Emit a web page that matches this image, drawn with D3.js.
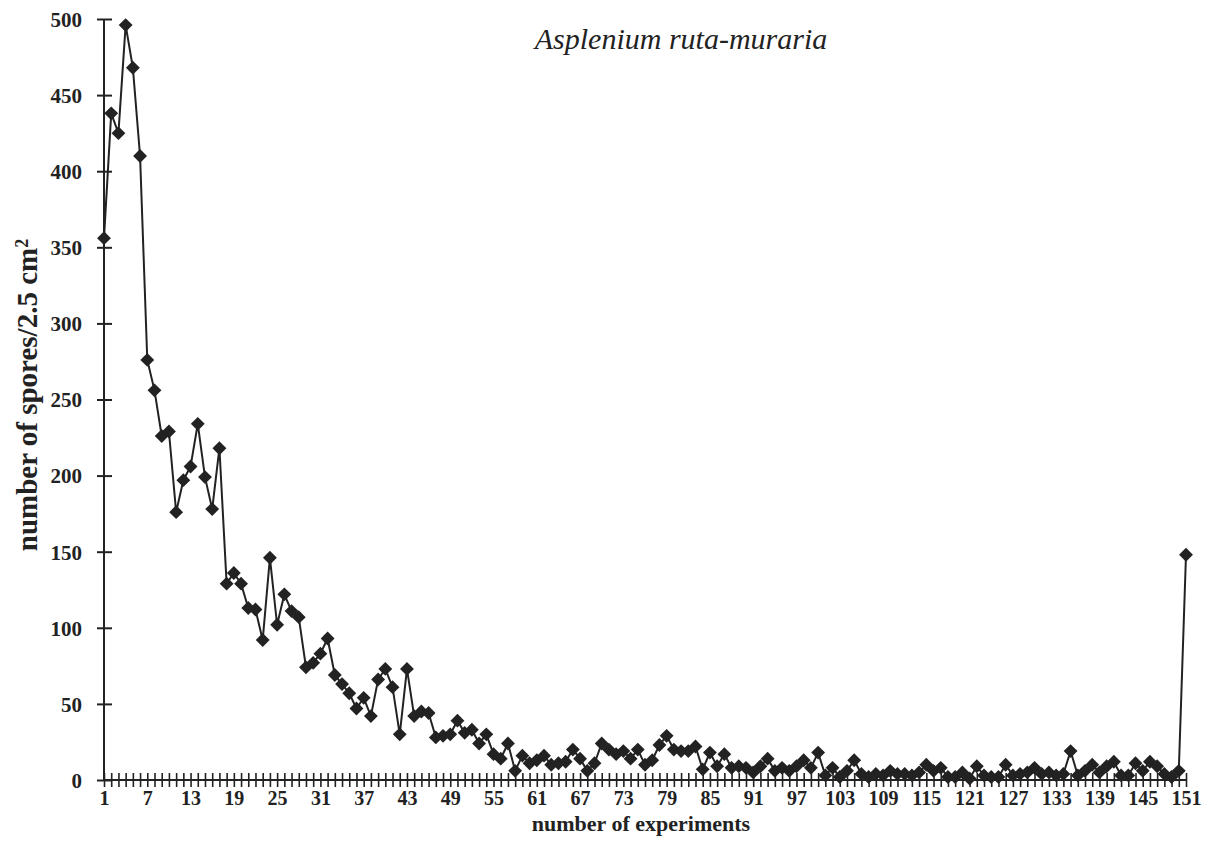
<!DOCTYPE html>
<html>
<head>
<meta charset="utf-8">
<script src="https://cdn.jsdelivr.net/npm/d3@7"></script>
<style>
  body { margin: 0; background: #fff; }
  text { font-family: "Liberation Serif", "Times New Roman", serif; fill: #222; }
</style>
</head>
<body>
<div id="chart"></div>
<script>
// experiment number (categories)
var experiments = d3.range(1, 152);
// spores per 2.5 cm2
var spores = [
  356, 438, 425, 496, 468, 410, 276, 256, 226, 229,
  176, 197, 206, 234, 199, 178, 218, 129, 136, 129,
  113, 112, 92, 146, 102, 122, 111, 107, 74, 77,
  83, 93, 69, 63, 57, 47, 54, 42, 66, 73,
  61, 30, 73, 42, 45, 44, 28, 29, 30, 39,
  31, 33, 24, 30, 17, 14, 24, 6, 16, 11,
  13, 16, 10, 11, 12, 20, 14, 6, 11, 24,
  20, 17, 19, 14, 20, 10, 13, 23, 29, 20,
  19, 19, 22, 7, 18, 9, 17, 8, 9, 8,
  5, 9, 14, 6, 8, 6, 9, 13, 8, 18,
  3, 8, 2, 6, 13, 4, 2, 4, 3, 6,
  4, 4, 3, 5, 10, 6, 8, 2, 2, 5,
  1, 9, 3, 2, 2, 10, 3, 4, 5, 8,
  4, 5, 3, 4, 19, 3, 6, 10, 5, 9,
  12, 3, 3, 11, 6, 12, 9, 4, 2, 6,
  148
];
var yTicks = [0, 50, 100, 150, 200, 250, 300, 350, 400, 450, 500];
var xLabelEvery = 6;

var data = experiments.map(function(d, i) { return {n: d, v: spores[i]}; });

var W = 1211, H = 853;
var margin = {top: 19, right: 25, bottom: 73, left: 104};

var svg = d3.select("#chart")
  .append("svg")
    .attr("width", W)
    .attr("height", H);

var x = d3.scaleLinear()
  .domain([1, 151])
  .range([margin.left, W - margin.right]);
var y = d3.scaleLinear()
  .domain([0, 500])
  .range([H - margin.bottom, margin.top]);

var ink = "#222";

// Y axis
var yAxis = svg.append("g")
  .attr("transform", "translate(" + margin.left + ",0)")
  .call(d3.axisLeft(y).tickValues(yTicks).tickSize(7).tickPadding(15));
yAxis.select(".domain").attr("stroke", ink).attr("stroke-width", 2)
  .attr("d", "M0," + y(500) + "V" + y(0));
yAxis.selectAll(".tick line").attr("x1", -7).attr("x2", 8)
  .attr("stroke", ink).attr("stroke-width", 2);
yAxis.selectAll(".tick text")
  .style("font-size", "21px").style("font-weight", "bold")
  .attr("fill", ink).attr("dy", "0.35em");

// X axis
var xAxis = svg.append("g")
  .attr("transform", "translate(0," + y(0) + ")")
  .call(d3.axisBottom(x).tickValues(experiments).tickSize(7).tickPadding(4)
    .tickFormat(function(d) { return (d - 1) % xLabelEvery === 0 ? d : ""; }));
xAxis.select(".domain").attr("stroke", ink).attr("stroke-width", 2)
  .attr("d", "M" + x(1) + ",0H" + x(151));
xAxis.selectAll(".tick line").attr("y1", -7).attr("y2", 7)
  .attr("stroke", ink).attr("stroke-width", 1.6);
xAxis.selectAll(".tick text")
  .style("font-size", "20px").style("font-weight", "bold")
  .attr("fill", ink);

// line
var line = d3.line()
  .x(function(d) { return x(d.n); })
  .y(function(d) { return y(d.v); });
svg.append("path")
  .datum(data)
  .attr("fill", "none")
  .attr("stroke", ink)
  .attr("stroke-width", 2)
  .attr("d", line);

// diamond markers
var diamond = d3.symbol().type(d3.symbolSquare).size(96);
svg.append("g")
  .selectAll("path")
  .data(data)
  .enter()
  .append("path")
    .attr("d", diamond)
    .attr("transform", function(d) { return "translate(" + x(d.n) + "," + y(d.v) + ") rotate(45)"; })
    .attr("fill", ink);

// titles
svg.append("text")
  .attr("x", 681).attr("y", 49)
  .attr("text-anchor", "middle")
  .style("font-size", "30px").style("font-style", "italic")
  .text("Asplenium ruta-muraria");

svg.append("text")
  .attr("x", 641).attr("y", 831)
  .attr("text-anchor", "middle")
  .style("font-size", "22px").style("font-weight", "bold")
  .text("number of experiments");

var yl = svg.append("text")
  .attr("transform", "translate(37,395) rotate(-90)")
  .attr("text-anchor", "middle")
  .style("font-size", "29px").style("font-weight", "bold");
yl.append("tspan").text("number of spores/2.5 cm");
yl.append("tspan").attr("dy", "-0.5em").style("font-size", "18px").text("2");
</script>
</body>
</html>
